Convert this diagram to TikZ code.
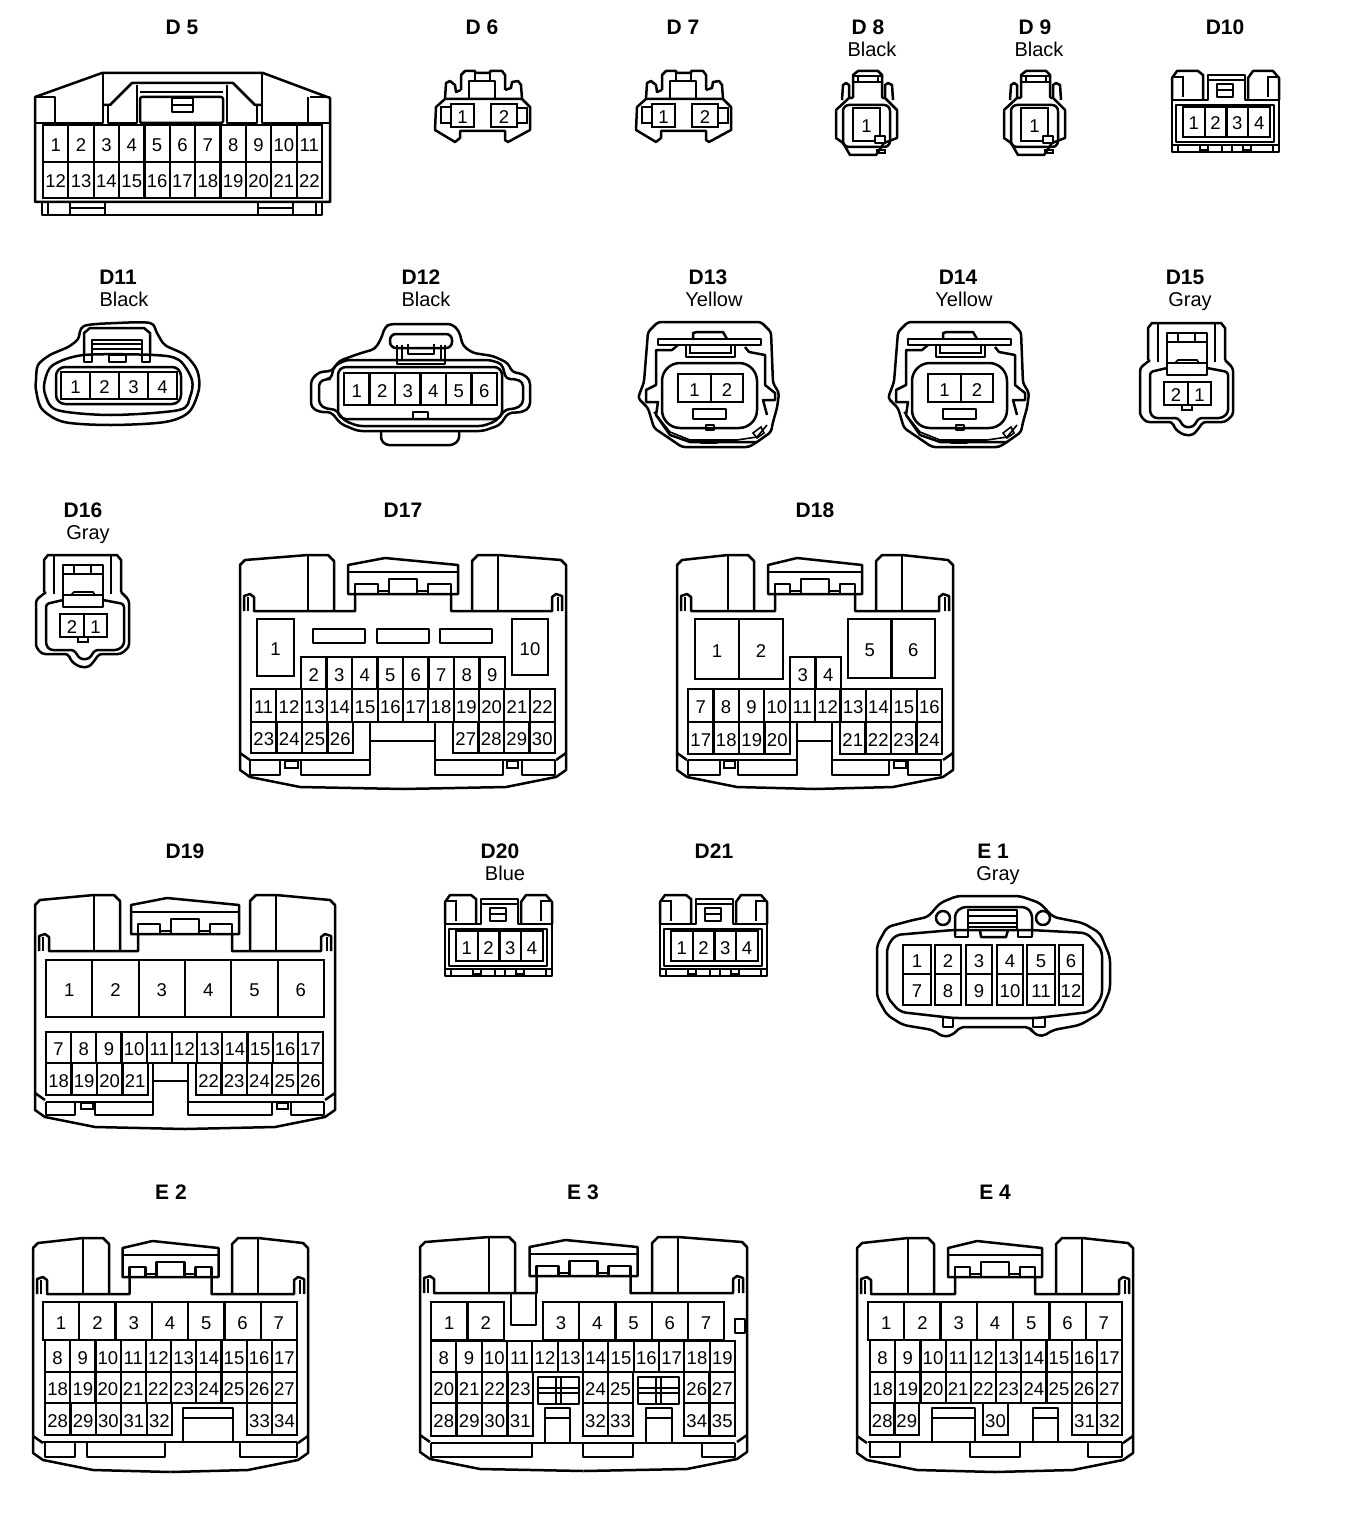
\documentclass[tikz,border=0pt]{standalone}
\usepackage{fontspec}
\setmainfont{Liberation Sans}

\newcommand{\Pin}[6]{%
  \node[Pin,minimum width=#4-#2,minimum height=#5-#3] (#1) at ({(#2+#4)/2},{(#3+#5)/2}) {#6};}

\newcommand{\PinRow}[7]{%
  \pgfmathsetmacro{\pinw}{(#4-#2)/(#7-#6+1)}
  \foreach \n in {#6,...,#7} {
    \pgfmathsetmacro{\pinx}{#2+(\n-#6+.5)*\pinw}
    \node[Pin,minimum width=\pinw,minimum height=#5-#3] (#1\n) at (\pinx,{(#3+#5)/2}) {\n};
  }}

\newcommand{\FootCup}[4]{\draw[Body] (#1,#3) -- (#1,#4) -- (#2,#4) -- (#2,#3);}

\newcommand{\ShellHalf}[3]{%
  \draw[Body] (0,198) -- (0,10) -- (5,5) -- (#1,0) -- ({#1+20},0) -- ({#1+26},6) -- ({#1+26},56);
  \draw[Body] (#1,0) -- (#1,56);
  \draw[Body] (4,56) -- (4,41) -- (10,39) -- (14,42) -- (14,56) -- (#2,56) -- (#2,39);
  \draw[Thin] (8,42) -- (8,56);
  \draw[Body] (0,198) -- (0,215) -- (10,222) -- (60,232) -- (#3,234);
  \draw[Body] (0,198) -- (10,205);}

\newcommand{\ConnShell}[5]{%
  \pgfmathsetmacro{\neckx}{#3/2-#5+7}
  \pgfmathsetmacro{\halfw}{#3/2}
  \begin{scope}[shift={(#1,#2)}]
    \ShellHalf{#4}{\neckx}{\halfw}
  \end{scope}
  \begin{scope}[shift={(#1+#3,#2)},xscale=-1]
    \ShellHalf{#4}{\neckx}{\halfw}
  \end{scope}
  \begin{scope}[shift={(#1+\halfw,#2)}]
    \draw[Body] (-#5,39) -- (-#5,10) -- (-18,3) -- (#5,10) -- (#5,39) -- cycle;
    \draw[Body] (-#5,17) -- (#5,17);
    \draw[Body] (-14,39) -- (-14,24) -- (14,24) -- (14,39);
    \draw[Body] ({-#5+7},39) -- ({-#5+7},29) -- (-25,29) -- (-25,39);
    \draw[Body] ({#5-7},39) -- ({#5-7},29) -- (25,29) -- (25,39);
    \draw[Thin] (-25,36) -- (-14,36);
    \draw[Thin] (25,36) -- (14,36);
  \end{scope}}

\newcommand{\NarrowPlug}[2]{%
  \begin{scope}[xshift=#2pt]
    \draw[Body] (461,90) -- (461,75) -- (465,71) -- (475,71) -- (475,73) -- (490,73) -- (490,71) -- (502,71) -- (505,75) -- (505,90);
    \draw[Body] (469,99) -- (469,81) -- (495,81) -- (495,99);
    \draw[Thin] (475,73) -- (475,81);
    \draw[Thin] (490,73) -- (490,81);
    \draw[Body] (445,99) -- (446,83) -- (450,81) -- (455,85) -- (456,92) -- (461,90);
    \draw[Body] (505,90) -- (511,88) -- (512,82) -- (518,81) -- (521,85) -- (522,99);
    \draw[Body] (436,107) -- (445,99) -- (522,99) -- (530,107) -- (530,130) -- (508,142) -- (505,140) -- (505,131) -- (460,131) -- (460,138) -- (455,142) -- (435,130) -- cycle;
    \draw[Thin] (451,107) -- (441,107) -- (441,123) -- (451,123);
    \draw[Thin] (517,108) -- (527,108) -- (527,123) -- (517,123);
    \Pin{#1p1}{451}{104}{474}{127}{1}
    \Pin{#1p2}{491}{104}{517}{127}{2}
  \end{scope}}

\newcommand{\SinglePlug}[2]{%
  \begin{scope}[xshift=#2pt]
    \draw[Body] (853,98) -- (853,75) -- (858,71) -- (878,71) -- (882,75) -- (882,98);
    \draw[Thin] (853,76) -- (882,76);
    \draw[Thin] (853,82) -- (882,82);
    \draw[Thin] (858,76) -- (858,82);
    \draw[Thin] (878,76) -- (878,82);
    \draw[Body] (842,100) -- (843,85) -- (846,83) -- (849,85) -- (849,97);
    \draw[Body] (885,97) -- (885,85) -- (888,83) -- (892,85) -- (893,100);
    \draw[Body] (853,98) -- (849,98) -- (836,110) -- (836,138) -- (843,143) -- (850,155) -- (876,155) -- (884,143) -- (897,138) -- (897,110) -- (885,98) -- (882,98);
    \draw[Body,rounded corners=6pt] (843,105) rectangle (890,147);
    \draw[Thin] (877,150) rectangle (885,153);
    \Pin{#1p1}{853}{108}{880}{141}{1}
    \draw[Body,fill=white] (875,136) rectangle (885,143);
  \end{scope}}

\newcommand{\FourWay}[3]{%
  \begin{scope}[shift={(#2,#3)}]
    \draw[Body] (1172,100) -- (1172,78) -- (1177,71) -- (1198,71) -- (1203,75) -- (1203,100);
    \draw[Body] (1248,100) -- (1248,78) -- (1253,71) -- (1273,71) -- (1279,78) -- (1279,100);
    \draw[Body] (1172,100) -- (1208,100) -- (1208,75) -- (1245,75) -- (1245,100) -- (1279,100);
    \draw[Body] (1208,80) -- (1245,80);
    \draw[Body] (1172,100) -- (1172,152) -- (1279,152) -- (1279,100);
    \draw[Thin] (1174,77) -- (1183,77) -- (1183,97);
    \draw[Thin] (1277,77) -- (1268,77) -- (1268,97);
    \draw[Body] (1217,84) rectangle (1233,97);
    \draw[Thin] (1217,90) -- (1233,90);
    \draw[Body] (1176,105) rectangle (1274,142);
    \draw[Thin] (1172,145) -- (1279,145);
    \draw[Thin] (1200,145) rectangle (1208,150);
    \draw[Thin] (1222,145) rectangle (1232,152);
    \draw[Thin] (1243,145) rectangle (1251,150);
    \draw[Thin] (1178,145) -- (1178,152);
    \draw[Thin] (1273,145) -- (1273,152);
    \PinRow{#1p}{1183}{107}{1270}{137}{1}{4}
  \end{scope}}

\newcommand{\RoundPlug}[2]{%
  \begin{scope}[xshift=#2pt]
    \draw[Body,rounded corners=3pt] (648,332) -- (658,322) -- (761,322) -- (771,332) -- (773,383) -- (779,393) -- (777,408) -- (773,422) -- (771,432) -- (757,442) -- (749,447) -- (682,447) -- (654,428) -- (648,408) -- (638,398) -- (644,382) -- cycle;
    \draw[Body] (658,339) rectangle (761,345);
    \draw[Body] (693,339) -- (693,333) -- (697,332) -- (723,332) -- (727,339);
    \draw[Body] (686,345) -- (686,357) -- (735,357) -- (735,345);
    \draw[Thin] (690,345) -- (690,353) -- (731,353) -- (731,345);
    \draw[Body] (678,345) -- (672,350) -- (656,350) -- (656,385) -- (646,390) -- (646,402) -- (658,402) -- (656,415) -- (670,435) -- (690,442) -- (757,442);
    \draw[Body] (745,347) -- (749,352) -- (765,355) -- (765,385) -- (775,393) -- (775,400) -- (763,400) -- (767,415);
    \draw[Thin] (654,412) -- (670,432) -- (690,440) -- (737,440) -- (757,437) -- (767,425);
    \draw[Body,rounded corners=18pt] (662,363) rectangle (757,428);
    \Pin{#1p1}{678}{374}{711}{402}{1}
    \Pin{#1p2}{711}{374}{743}{402}{2}
    \draw[Body] (693,409) rectangle (726,419);
    \draw[Body] (706,425) rectangle (714,430);
    \draw[Body] (701,440) rectangle (717,443);
    \draw[Thin] (753,433) -- (761,427) -- (764,433) -- (757,438) -- cycle;
  \end{scope}}

\newcommand{\GrayPlug}[3]{%
  \begin{scope}[shift={(#2,#3)}]
    \draw[Body] (1148,360) -- (1148,328) -- (1152,323) -- (1221,323) -- (1225,328) -- (1225,360);
    \draw[Body] (1158,324) -- (1158,362);
    \draw[Body] (1215,324) -- (1215,362);
    \draw[Body] (1167,333) rectangle (1207,375);
    \draw[Body] (1167,342) -- (1207,342);
    \draw[Thin] (1178,333) -- (1178,342);
    \draw[Thin] (1195,333) -- (1195,342);
    \draw[Thin] (1175,363) -- (1178,360) -- (1197,360) -- (1199,363);
    \draw[Body] (1167,363) -- (1207,363);
    \draw[Body,rounded corners=3pt] (1150,360) -- (1140,368) -- (1140,415) -- (1146,422) -- (1172,422) -- (1176,430) -- (1184,435) -- (1193,435) -- (1199,428) -- (1203,422) -- (1225,422) -- (1233,415) -- (1233,368) -- (1225,360);
    \draw[Body,rounded corners=3pt] (1167,368) -- (1150,372) -- (1150,413) -- (1154,418) -- (1178,418) -- (1184,427) -- (1193,427) -- (1199,418) -- (1222,418) -- (1228,413) -- (1228,372) -- (1207,368);
    \Pin{#1p2}{1164}{382}{1188}{405}{2}
    \Pin{#1p1}{1188}{382}{1211}{405}{1}
    \draw[Thin] (1182,405) rectangle (1192,410);
  \end{scope}}

\begin{document}
\begin{tikzpicture}[x=1pt,y=-1pt]
    \tikzset{Body/.style={draw=black,line width=2.5pt,line join=round},
             Thin/.style={draw=black,line width=1.6pt},
             Pin/.style={shape=rectangle,draw=black,line width=2.2pt,inner sep=0pt,
                         text height=16pt,text depth=0pt,
                         font=\fontsize{18.5}{18.5}\selectfont},
             Title/.style={font=\bfseries\fontsize{21}{21}\selectfont,inner sep=0pt},
             Colour/.style={font=\fontsize{20}{20}\selectfont,inner sep=0pt,
                            text height=.72em,text depth=.2em,node distance=27pt}}

    \useasboundingbox (0,0) rectangle (1344,1530);

    \node[Title] (tD5) at (182,27) {D 5};
    \node[Title] (tD6) at (482,27) {D 6};
    \node[Title] (tD7) at (683,27) {D 7};
    \node[Title] (tD8) at (868,27) {D 8};
    \node[Colour, below of=tD8, xshift=4pt] (cD8) {Black};
    \node[Title] (tD9) at (1035,27) {D 9};
    \node[Colour, below of=tD9, xshift=4pt] (cD9) {Black};
    \node[Title] (tD10) at (1225,27) {D10};
    \node[Title] (tD11) at (118,277) {D11};
    \node[Colour, below of=tD11, xshift=6pt] (cD11) {Black};
    \node[Title] (tD12) at (421,277) {D12};
    \node[Colour, below of=tD12, xshift=5pt] (cD12) {Black};
    \node[Title] (tD13) at (708,277) {D13};
    \node[Colour, below of=tD13, xshift=6pt] (cD13) {Yellow};
    \node[Title] (tD14) at (958,277) {D14};
    \node[Colour, below of=tD14, xshift=6pt] (cD14) {Yellow};
    \node[Title] (tD15) at (1185,277) {D15};
    \node[Colour, below of=tD15, xshift=5pt] (cD15) {Gray};
    \node[Title] (tD16) at (83,510) {D16};
    \node[Colour, below of=tD16, xshift=5pt] (cD16) {Gray};
    \node[Title] (tD17) at (403,510) {D17};
    \node[Title] (tD18) at (815,510) {D18};
    \node[Title] (tD19) at (185,851) {D19};
    \node[Title] (tD20) at (500,851) {D20};
    \node[Colour, below of=tD20, xshift=5pt] (cD20) {Blue};
    \node[Title] (tD21) at (714,851) {D21};
    \node[Title] (tE1) at (993,851) {E 1};
    \node[Colour, below of=tE1, xshift=5pt] (cE1) {Gray};
    \node[Title] (tE2) at (171,1192) {E 2};
    \node[Title] (tE3) at (583,1192) {E 3};
    \node[Title] (tE4) at (995,1192) {E 4};

    \draw[Body] (35,202) -- (35,97) -- (102,73) -- (263,73) -- (330,98) -- (330,202) -- cycle;
    \draw[Body] (36,97) -- (55,97) -- (55,123);
    \draw[Body] (35,123) -- (103,123) -- (103,73);
    \draw[Body] (103,105) -- (110,105) -- (132,83) -- (233,83) -- (255,105) -- (262,105);
    \draw[Body] (262,73) -- (262,123) -- (330,123);
    \draw[Body] (310,97) -- (330,97);
    \draw[Body] (308,97) -- (308,123);
    \draw[Body] (108,105) -- (108,123) -- (137,123) -- (137,85);
    \draw[Body] (227,85) -- (227,123) -- (257,123) -- (257,105);
    \draw[Body,rounded corners=2pt] (140,123) -- (140,97) -- (223,97) -- (223,123) -- cycle;
    \draw[Thin] (140,92) -- (223,92);
    \draw[Body] (172,98) rectangle (193,112);
    \draw[Thin] (172,105) -- (193,105);
    \PinRow{d5p}{43}{125}{322}{162}{1}{11}
    \PinRow{d5p}{43}{162}{322}{198}{12}{22}
    \FootCup{42}{322}{202}{215}
    \draw[Thin] (48,202) -- (48,215);
    \draw[Thin] (316,202) -- (316,215);
    \draw[Body] (70,202) -- (70,215);
    \draw[Body] (70,208) -- (105,208);
    \draw[Body] (105,202) -- (105,215);
    \draw[Body] (258,202) -- (258,215);
    \draw[Body] (258,208) -- (293,208);
    \draw[Body] (293,202) -- (293,215);

    \NarrowPlug{d6}{0}
    \NarrowPlug{d7}{201}
    \SinglePlug{d8}{0}
    \SinglePlug{d9}{168}
    \FourWay{d10}{0}{0}
    \FourWay{d20}{-727}{824}
    \FourWay{d21}{-512}{824}

    \draw[Body] plot[smooth cycle,tension=.5] coordinates {(36,380) (38,365) (50,355) (68,347) (78,339) (84,326) (117,323) (150,323) (157,333) (165,345) (185,355) (197,370) (199,389) (189,412) (165,422) (111,425) (64,422) (42,409) (36,390)};
    \draw[Body] plot[smooth cycle,tension=.5] coordinates {(45,380) (53,365) (84,355) (154,355) (179,360) (192,380) (190,397) (179,410) (111,415) (57,410) (45,394)};
    \draw[Body,rounded corners=9pt] (56,367) rectangle (181,404);
    \draw[Body] (84,355) -- (84,333) -- (90,328) -- (144,328) -- (150,333) -- (150,355);
    \draw[Body] (84,355) -- (84,362) -- (92,362) -- (92,340) -- (142,340) -- (142,362) -- (150,362) -- (150,355);
    \draw[Thin] (92,344) -- (142,344);
    \draw[Thin] (92,349) -- (142,349);
    \draw[Body] (109,355) rectangle (126,362);
    \PinRow{d11p}{61}{372}{177}{399}{1}{4}

    \draw[Body,rounded corners=4pt] (311,380) -- (319,372) -- (332,371) -- (339,361) -- (358,354) -- (375,349) -- (381,339) -- (385,327) -- (390,324) -- (452,324) -- (459,331) -- (463,346) -- (473,353) -- (493,356) -- (508,363) -- (512,372) -- (523,374) -- (530,380) -- (530,407) -- (523,412) -- (508,413) -- (500,425) -- (483,431) -- (358,431) -- (341,424) -- (331,412) -- (319,412) -- (311,407) -- cycle;
    \draw[Body,rounded corners=3pt] (381,431) -- (381,440) -- (386,445) -- (453,445) -- (459,440) -- (459,431);
    \draw[Body,rounded corners=4pt] (319,382) -- (326,379) -- (331,379) -- (334,366) -- (346,360) -- (490,360) -- (502,364) -- (506,379) -- (515,379) -- (523,382) -- (523,404) -- (515,409) -- (506,409) -- (496,421) -- (483,426) -- (358,426) -- (345,421) -- (335,409) -- (326,409) -- (319,404) -- cycle;
    \draw[Body,rounded corners=8pt] (338,367) rectangle (502,419);
    \PinRow{d12p}{344}{373}{497}{405}{1}{6}
    \draw[Body] (413,412) rectangle (428,419);
    \draw[Body,rounded corners=6pt] (390,334) rectangle (452,348);
    \draw[Body] (397,345) -- (397,364) -- (445,364) -- (445,345);
    \draw[Thin] (402,345) -- (402,360) -- (441,360) -- (441,345);
    \draw[Body] (408,344) -- (408,354) -- (434,354) -- (434,344);

    \RoundPlug{d13}{0}
    \RoundPlug{d14}{250}
    \GrayPlug{d15}{0}{0}
    \GrayPlug{d16}{-1104}{232}

    \ConnShell{240}{555}{326}{68}{55}
    \Pin{d17p1}{257}{619}{294}{676}{1}
    \Pin{d17p10}{512}{619}{548}{675}{10}
    \draw[Body] (313,629) rectangle (365,643);
    \draw[Body] (377,629) rectangle (429,643);
    \draw[Body] (440,629) rectangle (492,643);
    \PinRow{d17p}{301}{657}{505}{689}{2}{9}
    \PinRow{d17p}{251}{689}{555}{722}{11}{22}
    \PinRow{d17p}{251}{722}{353}{753}{23}{26}
    \PinRow{d17p}{453}{722}{555}{753}{27}{30}
    \draw[Body] (250,760) -- (370,760);
    \draw[Body] (435,760) -- (555,760);
    \FootCup{250}{280}{760}{775}
    \draw[Thin] (285,761) rectangle (298,768);
    \FootCup{301}{370}{760}{775}
    \draw[Body] (370,722) -- (370,760);
    \draw[Body] (370,741) -- (435,741);
    \draw[Body] (435,722) -- (435,760);
    \FootCup{435}{503}{760}{775}
    \draw[Thin] (507,761) rectangle (518,768);
    \FootCup{522}{555}{760}{775}

    \ConnShell{677}{555}{276}{51}{47}
    \PinRow{d18p}{695}{619}{783}{679}{1}{2}
    \PinRow{d18p}{848}{619}{935}{678}{5}{6}
    \PinRow{d18p}{790}{657}{841}{689}{3}{4}
    \PinRow{d18p}{688}{689}{942}{722}{7}{16}
    \PinRow{d18p}{688}{722}{790}{754}{17}{20}
    \PinRow{d18p}{840}{722}{942}{754}{21}{24}
    \draw[Body] (688,760) -- (797,760);
    \draw[Body] (832,760) -- (942,760);
    \FootCup{688}{720}{760}{775}
    \draw[Thin] (724,761) rectangle (735,768);
    \FootCup{738}{797}{760}{775}
    \draw[Body] (797,722) -- (797,760);
    \draw[Body] (797,741) -- (832,741);
    \draw[Body] (832,722) -- (832,760);
    \FootCup{832}{889}{760}{775}
    \draw[Thin] (894,761) rectangle (906,768);
    \FootCup{908}{941}{760}{775}

    \ConnShell{35}{895}{300}{59}{54}
    \PinRow{d19p}{46}{960}{324}{1017}{1}{6}
    \PinRow{d19p}{46}{1032}{323}{1063}{7}{17}
    \PinRow{d19p}{46}{1063}{148}{1095}{18}{21}
    \PinRow{d19p}{196}{1063}{323}{1095}{22}{26}
    \draw[Body] (46,1102) -- (153,1102);
    \draw[Body] (188,1102) -- (324,1102);
    \FootCup{46}{75}{1102}{1115}
    \draw[Thin] (81,1103) rectangle (93,1109);
    \FootCup{95}{153}{1102}{1115}
    \draw[Body] (153,1063) -- (153,1102);
    \draw[Body] (153,1081) -- (188,1081);
    \draw[Body] (188,1063) -- (188,1102);
    \FootCup{188}{272}{1102}{1115}
    \draw[Thin] (277,1103) rectangle (288,1109);
    \FootCup{291}{324}{1102}{1115}

    \draw[Body,rounded corners=5pt] (877,997) -- (877,945) -- (887,927) -- (913,920) -- (928,917) -- (940,903) -- (957,896) -- (1020,896) -- (1040,903) -- (1053,917) -- (1083,923) -- (1100,933) -- (1110,957) -- (1110,990) -- (1100,1013) -- (1080,1025) -- (1053,1030) -- (1042,1037) -- (1033,1033) -- (1030,1027) -- (960,1027) -- (953,1035) -- (943,1037) -- (933,1030) -- (903,1025) -- (887,1015) -- cycle;
    \draw[Body,rounded corners=6pt] (887,997) -- (887,947) -- (895,935) -- (953,930) -- (1030,930) -- (1087,933) -- (1102,950) -- (1102,997) -- (1090,1012) -- (1037,1018) -- (953,1018) -- (900,1012) -- cycle;
    \FootCup{943}{953}{1018}{1027}
    \FootCup{1033}{1045}{1018}{1027}
    \draw[Body,rounded corners=4pt] (955,935) -- (955,913) -- (962,907) -- (1026,907) -- (1032,913) -- (1032,935);
    \draw[Body] (955,930) rectangle (968,937);
    \draw[Body] (1018,930) rectangle (1032,937);
    \draw[Body] (968,930) -- (968,910) -- (1017,910) -- (1017,930);
    \draw[Thin] (968,916) -- (1017,916);
    \draw[Thin] (968,923) -- (1017,923);
    \draw[Thin] (968,927) -- (1017,927);
    \draw[Body] (980,930) -- (981,937) -- (1006,937) -- (1008,930);
    \draw[Body] (943,918) circle (7pt);
    \draw[Body] (1043,918) circle (7pt);
    \foreach \n/\m/\xa/\xb in {1/7/903/931,2/8/935/961,3/9/966/992,4/10/997/1023,5/11/1027/1055,6/12/1059/1083} {
        \Pin{e1p\n}{\xa}{945}{\xb}{974}{\n}
        \Pin{e1p\m}{\xa}{974}{\xb}{1005}{\m}
    }

    \ConnShell{33}{1238}{275}{50}{48}
    \PinRow{e2p}{43}{1302}{297}{1340}{1}{7}
    \PinRow{e2p}{45}{1340}{297}{1372}{8}{17}
    \PinRow{e2p}{45}{1372}{297}{1403}{18}{27}
    \PinRow{e2p}{45}{1403}{172}{1435}{28}{32}
    \PinRow{e2p}{247}{1403}{297}{1435}{33}{34}
    \FootCup{183}{233}{1442}{1408}
    \draw[Body] (183,1418) -- (233,1418);
    \draw[Body] (43,1442) -- (297,1442);
    \FootCup{45}{75}{1442}{1457}
    \FootCup{87}{165}{1442}{1457}
    \FootCup{240}{297}{1442}{1457}

    \ConnShell{420}{1237}{327}{69}{54}
    \FootCup{511}{536}{1293}{1325}
    \PinRow{e3p}{431}{1302}{504}{1340}{1}{2}
    \PinRow{e3p}{543}{1302}{724}{1340}{3}{7}
    \PinRow{e3p}{431}{1341}{735}{1372}{8}{19}
    \PinRow{e3p}{431}{1372}{533}{1403}{20}{23}
    \PinRow{e3p}{583}{1372}{633}{1403}{24}{25}
    \PinRow{e3p}{684}{1372}{735}{1403}{26}{27}
    \PinRow{e3p}{431}{1403}{533}{1436}{28}{31}
    \PinRow{e3p}{583}{1403}{633}{1436}{32}{33}
    \PinRow{e3p}{684}{1403}{735}{1436}{34}{35}
    \foreach \xa in {538,638} {
        \draw[Body] (\xa,1377) rectangle ({\xa+41},1404);
        \draw[Body] ({\xa+18},1377) -- ({\xa+18},1404);
        \draw[Body] ({\xa+23},1377) -- ({\xa+23},1404);
        \draw[Thin] (\xa,1388) -- ({\xa+41},1388);
        \draw[Thin] (\xa,1393) -- ({\xa+41},1393);
    }
    \FootCup{545}{570}{1443}{1408}
    \draw[Body] (545,1418) -- (570,1418);
    \FootCup{646}{672}{1443}{1408}
    \draw[Body] (646,1418) -- (672,1418);
    \draw[Body] (735,1319) rectangle (745,1333);
    \draw[Body] (431,1443) -- (735,1443);
    \FootCup{431}{532}{1443}{1457}
    \FootCup{583}{633}{1443}{1457}
    \FootCup{702}{735}{1443}{1457}

    \ConnShell{857}{1238}{276}{51}{47}
    \PinRow{e4p}{868}{1302}{1122}{1340}{1}{7}
    \PinRow{e4p}{870}{1340}{1122}{1372}{8}{17}
    \PinRow{e4p}{870}{1372}{1122}{1403}{18}{27}
    \PinRow{e4p}{870}{1403}{919}{1435}{28}{29}
    \Pin{e4p30}{983}{1403}{1008}{1435}{30}
    \PinRow{e4p}{1072}{1403}{1122}{1435}{31}{32}
    \FootCup{932}{975}{1442}{1408}
    \draw[Body] (932,1418) -- (975,1418);
    \FootCup{1033}{1058}{1442}{1408}
    \draw[Body] (1033,1418) -- (1058,1418);
    \draw[Body] (868,1442) -- (1122,1442);
    \FootCup{870}{900}{1442}{1457}
    \FootCup{970}{1020}{1442}{1457}
    \FootCup{1088}{1122}{1442}{1457}
\end{tikzpicture}
\end{document}
